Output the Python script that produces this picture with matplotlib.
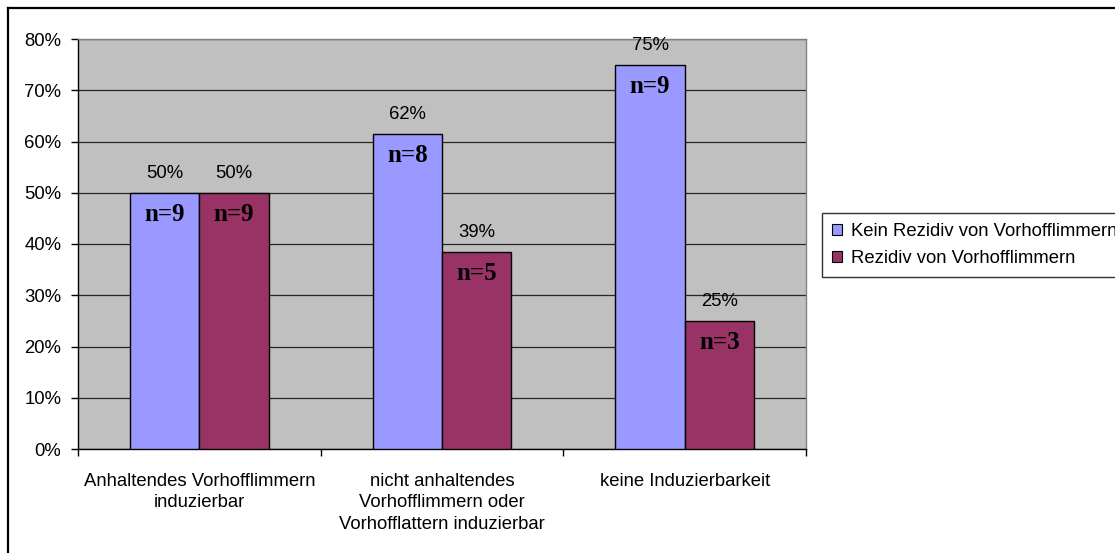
import matplotlib
matplotlib.use("Agg")
import matplotlib.pyplot as plt
from matplotlib.lines import Line2D
from matplotlib.ticker import FuncFormatter
import numpy as np
import math

categories = [
    "Anhaltendes Vorhofflimmern\ninduzierbar",
    "nicht anhaltendes\nVorhofflimmern oder\nVorhofflattern induzierbar",
    "keine Induzierbarkeit",
]
series_names = ["Kein Rezidiv von Vorhofflimmern", "Rezidiv von Vorhofflimmern"]
kein_rezidiv = [50, 61.5, 75]
rezidiv = [50, 38.5, 25]
n_kein = [9, 8, 9]
n_rezidiv = [9, 5, 3]
colors = ["#9999FF", "#993366"]

plt.rcParams["font.family"] = ["Liberation Sans", "DejaVu Sans"]

W, H = 1115, 553
FS = 13.3
fig = plt.figure(figsize=(W / 100, H / 100), dpi=100)
ax = fig.add_axes([78 / W, (H - 449) / H, 728 / W, 410 / H])
ax.set_facecolor("#C0C0C0")

x = np.arange(len(categories))
bw = 0.2857
for i, (vals, ns) in enumerate([(kein_rezidiv, n_kein), (rezidiv, n_rezidiv)]):
    pos = x + (i - 0.5) * bw
    ax.bar(pos, vals, width=bw, color=colors[i], edgecolor="black",
           linewidth=1.0, label=series_names[i], zorder=3)
    for px, v, n in zip(pos, vals, ns):
        pct = int(math.floor(v + 0.5))
        ax.annotate(f"{pct}%", (px, v), xytext=(0, 10.5), textcoords="offset points",
                    ha="center", va="baseline", fontsize=FS, color="black", zorder=4)
        ax.annotate(f"n={n}", (px, v), xytext=(0, -20.5), textcoords="offset points",
                    ha="center", va="baseline", fontsize=18, fontweight="bold",
                    family=["Liberation Serif", "DejaVu Serif"], color="black", zorder=4)

ax.set_xlim(-0.5, len(categories) - 0.5)
ax.set_ylim(0, 80)
ax.set_yticks(np.arange(0, 81, 10))
ax.yaxis.set_major_formatter(FuncFormatter(lambda v, _: f"{int(v)}%"))
ax.yaxis.grid(True, color="#262626", linewidth=0.9, zorder=1)
ax.set_axisbelow(True)

ax.set_xticks(x)
ax.set_xticklabels(categories, fontsize=FS, linespacing=1.35)
ax.tick_params(axis="x", length=0, pad=17)
ax.set_xticks(np.arange(-0.5, len(categories), 1.0), minor=True)
ax.tick_params(axis="x", which="minor", length=5, width=1, color="black", direction="out")
ax.tick_params(axis="y", length=5, width=1, direction="out", labelsize=FS, pad=7)

for side in ["left", "bottom"]:
    ax.spines[side].set_color("black")
    ax.spines[side].set_linewidth(1.0)
for side in ["top", "right"]:
    ax.spines[side].set_color("#808080")
    ax.spines[side].set_linewidth(1.0)

leg = ax.legend(loc="upper left", bbox_to_anchor=(822 / W, 1 - 213 / H),
                bbox_transform=fig.transFigure, fontsize=FS, frameon=True,
                fancybox=False, shadow=False, borderpad=0.55, handlelength=0.55,
                handleheight=0.55, handletextpad=0.45, labelspacing=0.55,
                borderaxespad=0)
leg.get_frame().set_edgecolor("black")
leg.get_frame().set_linewidth(1.0)
for h in leg.legend_handles:
    h.set_edgecolor("black")
    h.set_linewidth(0.8)

# outer chart frame (top and left edges)
fig.add_artist(Line2D([8 / W, 8 / W], [0, 1 - 8 / H], transform=fig.transFigure,
                      color="black", linewidth=1.6))
fig.add_artist(Line2D([8 / W, 1], [1 - 8 / H, 1 - 8 / H], transform=fig.transFigure,
                      color="black", linewidth=1.6))

fig.savefig("out.png", dpi=100, facecolor="white")
